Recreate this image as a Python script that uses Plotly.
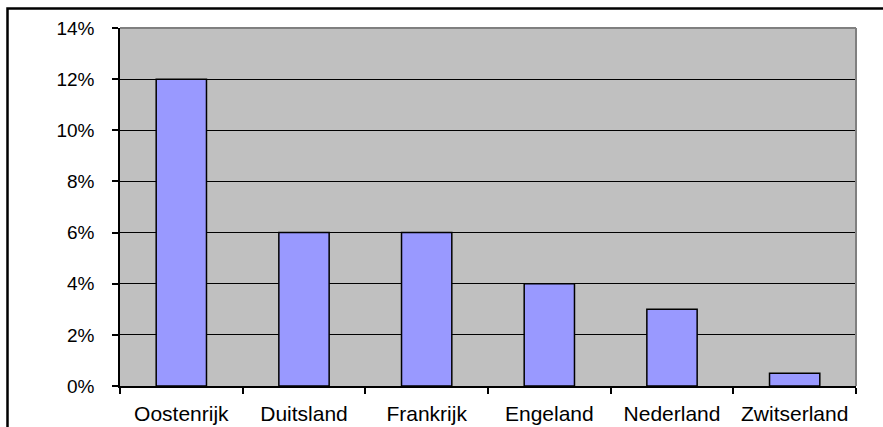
import plotly.graph_objects as go

# Share per country
countries = ["Oostenrijk", "Duitsland", "Frankrijk", "Engeland", "Nederland", "Zwitserland"]
shares = [0.12, 0.06, 0.06, 0.04, 0.03, 0.005]
y_ticks = [0, 0.02, 0.04, 0.06, 0.08, 0.10, 0.12, 0.14]

W, H = 883, 427
L, R, T, B = 120, 27, 28, 41
pw, ph = W - L - R, H - T - B

family = "Liberation Sans, Arial, sans-serif"

fig = go.Figure(
    go.Bar(
        x=countries,
        y=shares,
        marker=dict(color="#9999FF", line=dict(color="black", width=1.5)),
        width=0.41,
    )
)

fig.update_layout(
    width=W,
    height=H,
    margin=dict(l=L, r=R, t=T, b=B, pad=0),
    paper_bgcolor="white",
    plot_bgcolor="#C0C0C0",
    showlegend=False,
    font=dict(family=family, size=20, color="black"),
)

fig.update_xaxes(
    automargin=False,
    tickfont=dict(family=family, size=21, color="black"),
    showline=True,
    linecolor="black",
    linewidth=1.5,
    ticks="outside",
    tickson="boundaries",
    ticklen=6,
    tickcolor="black",
    tickwidth=1.5,
    showgrid=False,
    ticklabelstandoff=8,
)

fig.update_yaxes(
    automargin=False,
    tickfont=dict(family=family, size=19, color="black"),
    range=[0, 0.14],
    tickvals=y_ticks,
    tickformat=".0%",
    showline=True,
    linecolor="black",
    linewidth=1.5,
    ticks="outside",
    ticklen=6,
    tickcolor="black",
    tickwidth=1.5,
    showgrid=True,
    gridcolor="black",
    gridwidth=1,
    zeroline=False,
    ticklabelstandoff=14,
)

# Grey frame on the top and right of the plot area
fig.add_shape(type="line", xref="paper", yref="paper", x0=0, x1=1, y0=1, y1=1,
              line=dict(color="#808080", width=2))
fig.add_shape(type="line", xref="paper", yref="paper", x0=1, x1=1, y0=0, y1=1,
              line=dict(color="#808080", width=2))

# Outer chart border
fig.add_shape(
    type="rect", xref="paper", yref="paper",
    x0=(7.5 - L) / pw, x1=1.2,
    y0=-0.3, y1=(H - B - 8.5) / ph,
    line=dict(color="black", width=2.5),
    fillcolor="rgba(0,0,0,0)",
)

fig.write_html("out.html")
